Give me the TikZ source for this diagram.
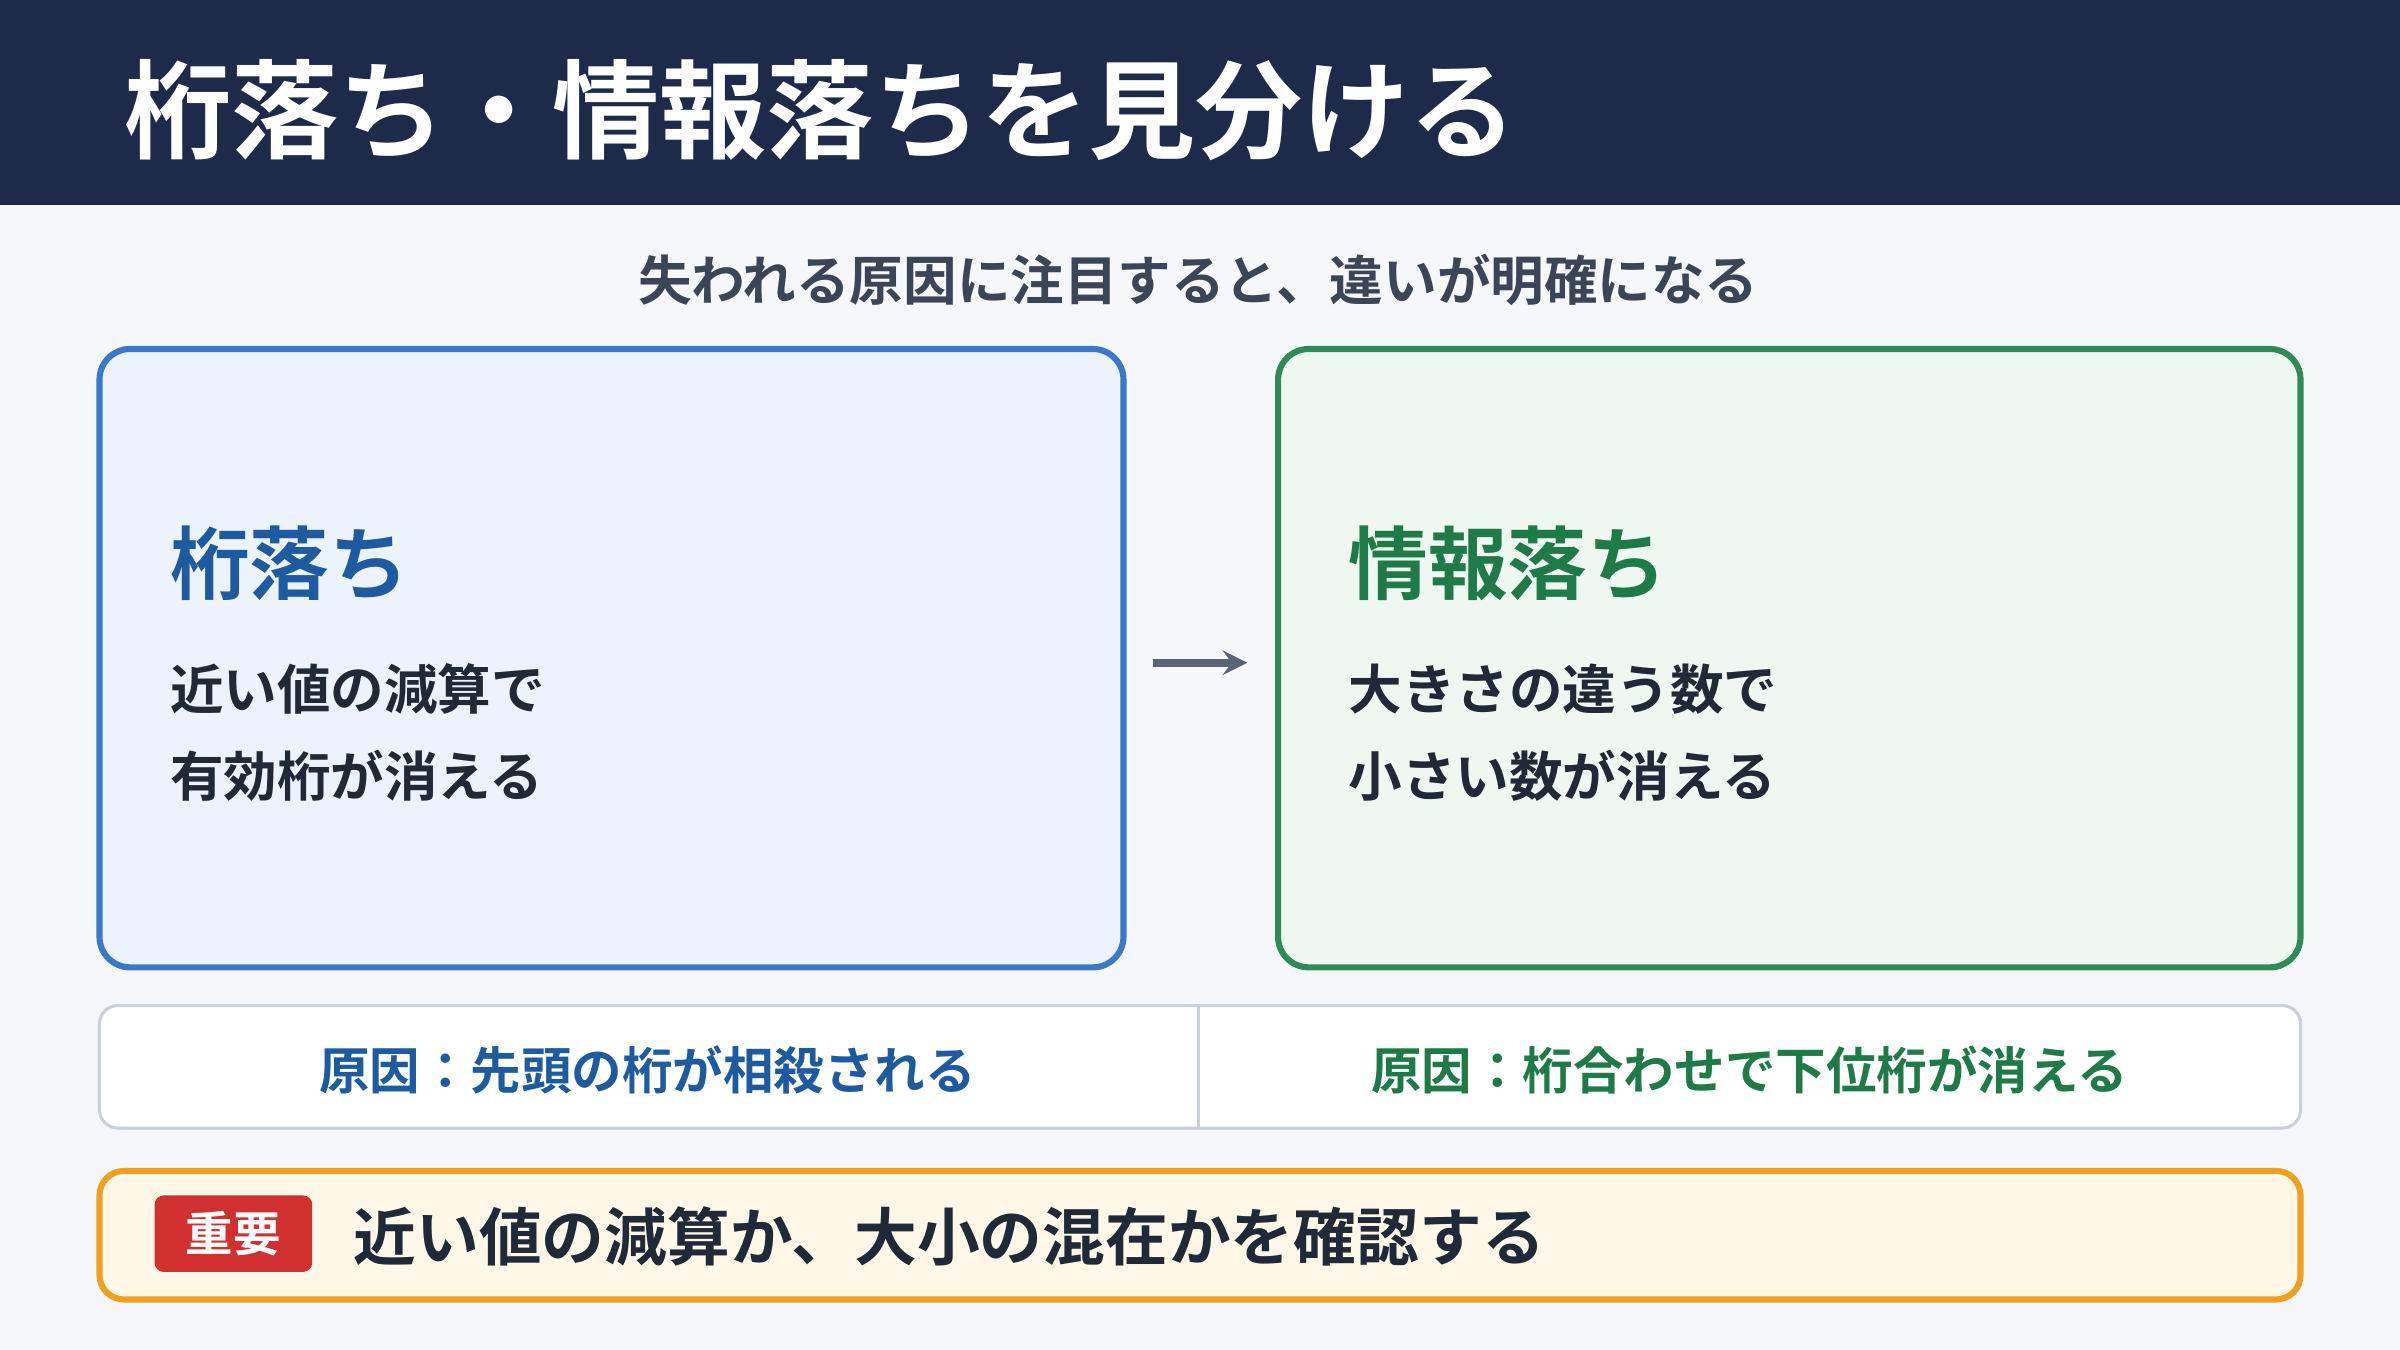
\documentclass[tikz,border=0pt]{standalone}
\usepackage{fontspec}
\setmainfont{Noto Sans CJK JP}[BoldFont={* Bold}]
\definecolor{navy}{HTML}{1E2A4A}
\definecolor{bgc}{HTML}{F5F7FB}
\definecolor{sub}{HTML}{3A4558}
\definecolor{ink}{HTML}{1F2937}
\definecolor{blueb}{HTML}{3A78C9}
\definecolor{bluef}{HTML}{EDF3FC}
\definecolor{bluet}{HTML}{1E5AA0}
\definecolor{greenb}{HTML}{2E8B57}
\definecolor{greenf}{HTML}{EEF8F1}
\definecolor{greent}{HTML}{1E7A46}
\definecolor{grayb}{HTML}{C8D0DC}
\definecolor{arr}{HTML}{5A6478}
\definecolor{orangeb}{HTML}{F0A020}
\definecolor{orangef}{HTML}{FFF8E8}
\definecolor{redt}{HTML}{D03030}
\tikzset{
  card/.style={draw, line width=2pt, rounded corners=10pt},
  head/.style={anchor=west, font=\fontsize{26}{30}\selectfont\bfseries},
  body/.style={anchor=west, text=ink, font=\fontsize{17.5}{22}\selectfont\bfseries},
  cause/.style={font=\fontsize{16.5}{20}\selectfont\bfseries}
}
\begin{document}
\begin{tikzpicture}[x=0.5pt,y=-0.5pt]
\useasboundingbox (0,0) rectangle (1568,882);
\fill[bgc] (0,0) rectangle (1568,882);
\fill[navy] (0,0) rectangle (1568,134);
\node[anchor=west, text=white, font=\fontsize{35}{40}\selectfont\bfseries] (title) at (74,72) {桁落ち・情報落ちを見分ける};
\node[text=sub, font=\fontsize{17.5}{22}\selectfont\bfseries] (subtitle) at (783,183) {失われる原因に注目すると、違いが明確になる};
% two cards
\draw[card, draw=blueb, fill=bluef] (65,228) rectangle (734,632);
\draw[card, draw=greenb, fill=greenf] (835,228) rectangle (1503,632);
\node[head, text=bluet] (h1) at (104,368) {桁落ち};
\node[body] (b11) at (104,450) {近い値の減算で};
\node[body] (b12) at (104,507) {有効桁が消える};
\node[head, text=greent] (h2) at (874,368) {情報落ち};
\node[body] (b21) at (874,450) {大きさの違う数で};
\node[body] (b22) at (874,507) {小さい数が消える};
\coordinate (a1) at (753,433);
\coordinate (a2) at (815,433);
\draw[arr, line width=2.5pt, -stealth] (a1) -- (a2);
% causes
\draw[fill=white, draw=grayb, line width=1pt, rounded corners=6pt] (65,657) rectangle (1503,737);
\draw[grayb, line width=1pt] (783,657) -- (783,737);
\node[cause, text=bluet] (c1) at (423,699) {原因：先頭の桁が相殺される};
\node[cause, text=greent] (c2) at (1143,699) {原因：桁合わせで下位桁が消える};
% key point
\draw[fill=orangef, draw=orangeb, line width=2pt, rounded corners=8pt] (65,765) rectangle (1503,849);
\node[fill=redt, rounded corners=3pt, minimum width=51.5pt, minimum height=25pt, text=white, font=\fontsize{15.5}{18}\selectfont\bfseries] (tag) at (152.5,806) {重要};
\node[anchor=west, text=ink, font=\fontsize{20.5}{24}\selectfont\bfseries] (key) at (224,808) {近い値の減算か、大小の混在かを確認する};
\end{tikzpicture}
\end{document}
